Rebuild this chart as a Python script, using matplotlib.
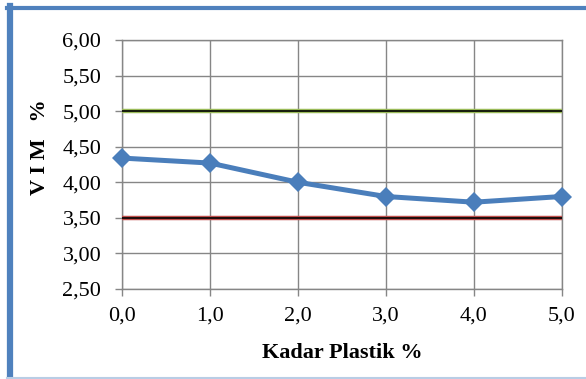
import numpy as np
import matplotlib
matplotlib.use('Agg')
import matplotlib.pyplot as plt
from matplotlib.lines import Line2D

# VIM data against plastic content
kadar_plastik = [0.0, 1.0, 2.0, 3.0, 4.0, 5.0]
vim = [4.34, 4.27, 4.00, 3.80, 3.72, 3.80]
batas_atas = 5.00
batas_bawah = 3.50

x_ticks = [0.0, 1.0, 2.0, 3.0, 4.0, 5.0]
y_ticks = [2.50, 3.00, 3.50, 4.00, 4.50, 5.00, 5.50, 6.00]

font_tick = {'family': 'Liberation Serif', 'size': 16}
font_label = {'family': 'Liberation Serif', 'size': 16, 'weight': 'bold'}

fig = plt.figure(figsize=(5.86, 3.79), dpi=100)
ax = fig.add_axes([0.2085, 0.2375, 0.75, 0.657])

# spec limits: coloured band with a dark core
for val, col in [(batas_atas, '#9bbb59'), (batas_bawah, '#c0504d')]:
    ax.plot([kadar_plastik[0], kadar_plastik[-1]], [val, val], color=col, linewidth=3.2, zorder=3,
            solid_capstyle='butt')
    ax.plot([kadar_plastik[0], kadar_plastik[-1]], [val, val], color='black', linewidth=1.2, zorder=4,
            solid_capstyle='butt')

ax.plot(kadar_plastik, vim, color='#4a7ebb', linewidth=3.6, marker='D', markersize=10,
        markeredgewidth=0, zorder=5, clip_on=False)

ax.set_xlim(0, 5)
ax.set_ylim(2.5, 6.0)
ax.set_xticks(x_ticks)
ax.set_yticks(y_ticks)
ax.set_xticklabels([f'{v:.1f}'.replace('.', ',') for v in x_ticks], fontdict=font_tick)
ax.set_yticklabels([f'{v:.2f}'.replace('.', ',') for v in y_ticks], fontdict=font_tick)
ax.tick_params(direction='out', length=5, width=1, color='#868686')
ax.tick_params(axis='x', pad=8)
ax.tick_params(axis='y', pad=10)
ax.grid(color='#868686', linewidth=1)
for s in ax.spines.values():
    s.set_color('#868686')
    s.set_linewidth(1)

ax.set_xlabel('Kadar Plastik %', fontdict=font_label, labelpad=12)
fig.text(0.068, 0.612, 'V I M   %', rotation=90, ha='center', va='center', fontdict=font_label)

# chart frame
fig.add_artist(Line2D([0.017, 0.017], [0.0, 0.984], color='#4f81bd', linewidth=4.5,
                      transform=fig.transFigure))
fig.add_artist(Line2D([0.012, 1.0], [0.979, 0.979], color='#4f81bd', linewidth=3.0,
                      transform=fig.transFigure))
fig.add_artist(Line2D([0.012, 1.0], [0.003, 0.003], color='#b9cde5', linewidth=1.5,
                      transform=fig.transFigure))

plt.savefig('out.png', dpi=100)
